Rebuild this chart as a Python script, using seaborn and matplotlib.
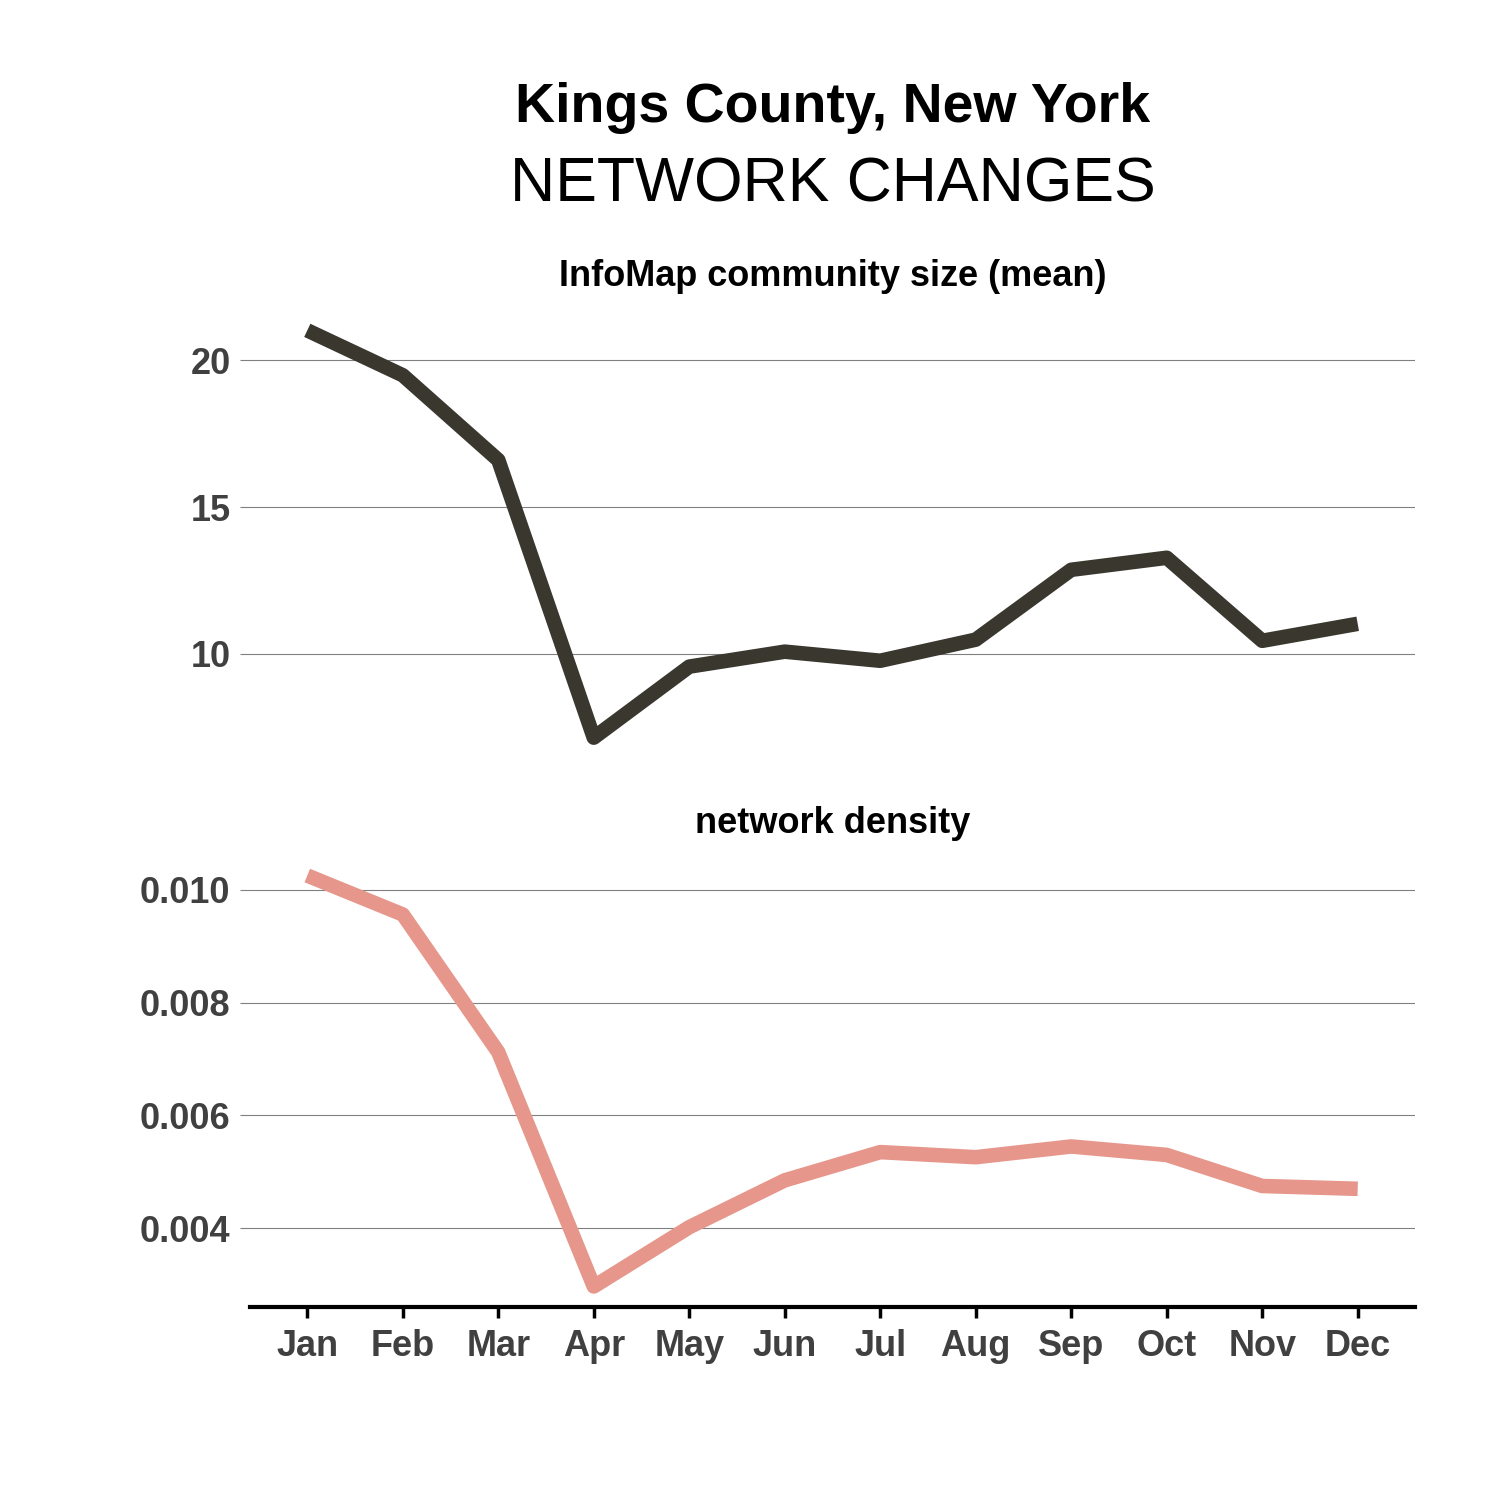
import matplotlib
matplotlib.use("Agg")
import matplotlib.pyplot as plt
import seaborn as sns
import pandas as pd

months = ["Jan", "Feb", "Mar", "Apr", "May", "Jun", "Jul", "Aug", "Sep", "Oct", "Nov", "Dec"]
community_size = [21.02, 19.49, 16.6, 7.14, 9.56, 10.07, 9.76, 10.48, 12.86, 13.27, 10.44, 11.02]
density = [0.01025, 0.00956, 0.00712, 0.00297, 0.00402, 0.00485, 0.00535, 0.00526, 0.00545, 0.00530, 0.00475, 0.00470]

title1 = "Kings County, New York"
title2 = "NETWORK CHANGES"
facet1 = "InfoMap community size (mean)"
facet2 = "network density"

sns.set_theme(style="white")
plt.rcParams['font.family'] = ['Liberation Sans', 'DejaVu Sans']

df = pd.DataFrame({"m": list(range(1, 13)), "size": community_size, "density": density})

fig = plt.figure(figsize=(15, 15), dpi=100)
L, R = 250 / 1500, 1415 / 1500
ax1 = fig.add_axes([L, 1 - 758 / 1500, R - L, (758 - 310) / 1500])
ax2 = fig.add_axes([L, 1 - 1307 / 1500, R - L, (1307 - 855) / 1500])

tick_col = "#404040"
for ax, col, color, ticks, fmt in [
    (ax1, "size", "#3a372f", [10, 15, 20], "{:.0f}"),
    (ax2, "density", "#e6968a", [0.004, 0.006, 0.008, 0.010], "{:.3f}"),
]:
    sns.lineplot(data=df, x="m", y=col, ax=ax, color=color, linewidth=10.5,
                 solid_capstyle="butt", solid_joinstyle="round")
    vals = df[col]
    rng = vals.max() - vals.min()
    ax.set_ylim(vals.min() - 0.05 * rng, vals.max() + 0.05 * rng)
    ax.set_xlim(0.4, 12.6)
    ax.set_yticks(ticks)
    ax.set_yticklabels([fmt.format(t) for t in ticks])
    ax.yaxis.grid(True, color="#808080", linewidth=0.8)
    ax.xaxis.grid(False)
    ax.set_axisbelow(True)
    for s in ["top", "right", "left", "bottom"]:
        ax.spines[s].set_visible(False)
    ax.set_xlabel("")
    ax.set_ylabel("")
    ax.tick_params(axis="y", which="major", left=True, length=7, width=0.8,
                   color="#808080", pad=7, labelsize=26, labelcolor=tick_col)
    for lab in ax.get_yticklabels():
        lab.set_fontweight("bold")

ax1.set_xticks([])
ax2.set_xticks(df["m"])
ax2.set_xticklabels(months)
ax2.spines["bottom"].set_visible(True)
ax2.spines["bottom"].set_color("black")
ax2.spines["bottom"].set_linewidth(3)
ax2.tick_params(axis="x", which="major", bottom=True, length=8, width=2.5,
                color="black", pad=8, labelsize=26, labelcolor=tick_col)
for lab in ax2.get_xticklabels():
    lab.set_fontweight("bold")

cx = (L + R) / 2
fig.text(cx, 1 - 122 / 1500, title1, ha="center", va="baseline", fontsize=40, fontweight="bold", color="black")
fig.text(cx, 1 - 202 / 1500, title2, ha="center", va="baseline", fontsize=45, color="black")
fig.text(cx, 1 - 286 / 1500, facet1, ha="center", va="baseline", fontsize=26, fontweight="bold", color="black")
fig.text(cx, 1 - 833 / 1500, facet2, ha="center", va="baseline", fontsize=26, fontweight="bold", color="black")

fig.savefig("out.png", dpi=100, facecolor="white")
